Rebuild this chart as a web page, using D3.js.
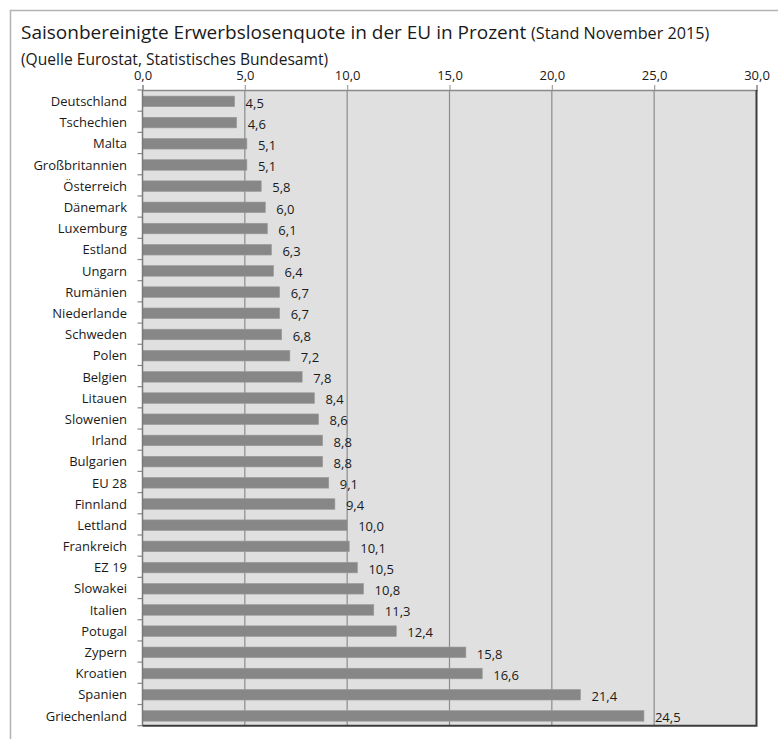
<!DOCTYPE html>
<html>
<head>
<meta charset="utf-8">
<script src="https://cdn.jsdelivr.net/npm/d3@7"></script>
<style>
  body { margin: 0; background: #fff; }
  svg { display: block; }
</style>
</head>
<body>
<div id="chart"></div>
<script>
// Data (Eurostat, Stand November 2015)
const countries = ['Deutschland', 'Tschechien', 'Malta', 'Großbritannien', 'Österreich', 'Dänemark',
  'Luxemburg', 'Estland', 'Ungarn', 'Rumänien', 'Niederlande', 'Schweden', 'Polen', 'Belgien',
  'Litauen', 'Slowenien', 'Irland', 'Bulgarien', 'EU 28', 'Finnland', 'Lettland', 'Frankreich',
  'EZ 19', 'Slowakei', 'Italien', 'Potugal', 'Zypern', 'Kroatien', 'Spanien', 'Griechenland'];
const rates = [4.5, 4.6, 5.1, 5.1, 5.8, 6.0, 6.1, 6.3, 6.4, 6.7, 6.7, 6.8, 7.2, 7.8,
  8.4, 8.6, 8.8, 8.8, 9.1, 9.4, 10.0, 10.1, 10.5, 10.8, 11.3, 12.4, 15.8, 16.6, 21.4, 24.5];
const xTicks = [0, 5, 10, 15, 20, 25, 30];

const width = 778, height = 739;
const font = '"Open Sans", "DejaVu Sans", sans-serif';
const fmt = v => v.toFixed(1).replace('.', ',');

const svg = d3.select('#chart').append('svg')
  .attr('width', width)
  .attr('height', height);

// outer chart frame (only top and left visible)
svg.append('path')
  .attr('d', `M10.5,${height} V10.5 H${width}`)
  .attr('fill', 'none')
  .attr('stroke', '#b3b3b3')
  .attr('stroke-width', 1.5);

// title
const title = svg.append('text')
  .attr('x', 21)
  .attr('y', 39)
  .attr('font-family', font)
  .attr('fill', '#1a1a1a');
title.append('tspan')
  .attr('font-size', '19px')
  .text('Saisonbereinigte Erwerbslosenquote in der EU in Prozent ');
title.append('tspan')
  .attr('font-size', '16.2px')
  .text('(Stand November 2015)');

svg.append('text')
  .attr('x', 21)
  .attr('y', 65)
  .attr('font-family', font)
  .attr('font-size', '15.6px')
  .attr('fill', '#1a1a1a')
  .text('(Quelle Eurostat, Statistisches Bundesamt)');

// scales
const x = d3.scaleLinear()
  .domain([0, 30])
  .range([142.5, 756.5]);

const y = d3.scaleBand()
  .domain(countries)
  .range([90, 725.7])
  .paddingInner(0.5)
  .paddingOuter(0.25);

const plotTop = y.range()[0], plotBottom = y.range()[1];

// plot background
svg.append('rect')
  .attr('x', x(0))
  .attr('y', plotTop)
  .attr('width', x(30) - x(0))
  .attr('height', plotBottom - plotTop)
  .attr('fill', '#e0e0e0');

// vertical gridlines
svg.append('g')
  .selectAll('line')
  .data(xTicks.slice(1, -1))
  .join('line')
  .attr('x1', d => x(d))
  .attr('x2', d => x(d))
  .attr('y1', plotTop)
  .attr('y2', plotBottom)
  .attr('stroke', '#8c8c8c')
  .attr('stroke-width', 1.2);

// top axis
const xAxis = d3.axisTop(x)
  .tickValues(xTicks)
  .tickSize(5)
  .tickPadding(5)
  .tickFormat(fmt);

svg.append('g')
  .attr('transform', `translate(0,${plotTop})`)
  .call(xAxis)
  .call(g => g.select('.domain').attr('stroke', '#8a8a8a').attr('stroke-width', 1.5))
  .call(g => g.selectAll('.tick line').attr('stroke', '#a0a0a0').attr('stroke-width', 1.2))
  .call(g => g.selectAll('.tick text')
    .attr('font-family', font)
    .attr('font-size', '13px')
    .attr('fill', '#1a1a1a'));

// bars
svg.append('g')
  .selectAll('rect')
  .data(countries)
  .join('rect')
  .attr('x', x(0))
  .attr('y', d => y(d) + 0.8)
  .attr('width', (d, i) => x(rates[i]) - x(0))
  .attr('height', y.bandwidth())
  .attr('fill', '#878787')
  .attr('stroke', '#9a9a9a')
  .attr('stroke-width', 0.6);

// value labels
svg.append('g')
  .selectAll('text')
  .data(countries)
  .join('text')
  .attr('x', (d, i) => x(rates[i]) + 11)
  .attr('y', d => y(d) + y.bandwidth() / 2 + 7)
  .attr('font-family', font)
  .attr('font-size', '13px')
  .attr('fill', '#1a1a1a')
  .text((d, i) => fmt(rates[i]));

// left axis: ticks at category boundaries
const boundaries = d3.range(countries.length + 1).map(i => plotTop + i * (plotBottom - plotTop) / countries.length);
svg.append('g')
  .selectAll('line')
  .data(boundaries)
  .join('line')
  .attr('x1', x(0) - 5)
  .attr('x2', x(0))
  .attr('y1', d => d)
  .attr('y2', d => d)
  .attr('stroke', '#8a8a8a')
  .attr('stroke-width', 1.2);

svg.append('line')
  .attr('x1', x(0))
  .attr('x2', x(0))
  .attr('y1', plotTop)
  .attr('y2', plotBottom)
  .attr('stroke', '#7a7a7a')
  .attr('stroke-width', 1.5);

svg.append('g')
  .selectAll('text')
  .data(countries)
  .join('text')
  .attr('x', 127)
  .attr('y', d => y(d) + y.bandwidth() / 2 + 5.5)
  .attr('text-anchor', 'end')
  .attr('font-family', font)
  .attr('font-size', '13px')
  .attr('fill', '#1a1a1a')
  .text(d => d);

// right and bottom plot border
svg.append('path')
  .attr('d', `M${x(0)},${plotBottom} H${x(30)} V${plotTop}`)
  .attr('fill', 'none')
  .attr('stroke', '#3c3c3c')
  .attr('stroke-width', 2);
</script>
</body>
</html>
